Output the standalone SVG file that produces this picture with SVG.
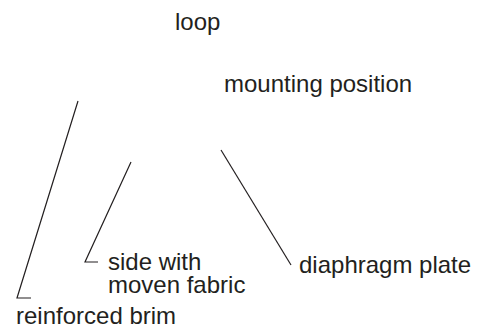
<svg xmlns="http://www.w3.org/2000/svg" width="484" height="330" viewBox="0 0 484 330">
<style>
text{font-family:"Liberation Sans",Arial,Helvetica,sans-serif;font-size:24px;fill:#231f20}
.l{fill:none;stroke:#231f20;stroke-width:1.2}
</style>
<rect width="484" height="330" fill="#fff"/>
<g id="connectors">
<polyline class="l" points="78,101 17,298 31,298"/>
<polyline class="l" points="131,162 85,262 98,262"/>
<line class="l" x1="221" y1="150" x2="291" y2="265"/>
</g>
<g id="loop"><text x="175" y="30">loop</text></g>
<g id="mounting-position"><text x="224" y="92">mounting position</text></g>
<g id="diaphragm-plate"><text x="299" y="273">diaphragm plate</text></g>
<g id="side-with-moven-fabric"><text x="108" y="270">side with</text><text x="108" y="293">moven fabric</text></g>
<g id="reinforced-brim"><text x="16" y="324">reinforced brim</text></g>
</svg>
